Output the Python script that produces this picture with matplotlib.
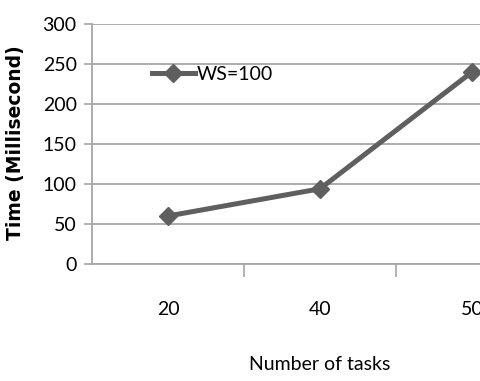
import matplotlib
matplotlib.use("Agg")
import matplotlib.pyplot as plt

tasks = ["20", "40", "50"]
times = [60, 94, 240]
yticks = [0, 50, 100, 150, 200, 250, 300]

body = "Lato"

fig = plt.figure(figsize=(4.81, 3.81), dpi=100)
ax = fig.add_axes([92/481, 117/381, 456/481, 240/381])

x = list(range(len(tasks)))
ax.plot(x, times, color="#5f5f5f", linewidth=3.6, marker="D", markersize=9,
        label="WS=100")

ax.set_xlim(-0.5, 2.5)
ax.set_ylim(0, 300)
ax.set_yticks(yticks)
ax.set_yticklabels([str(v) for v in yticks], fontname=body, fontsize=14)
ax.yaxis.grid(True, color="#a6a6a6", linewidth=1.3)
ax.set_axisbelow(True)

# category labels centred, tick marks at the boundaries
ax.set_xticks([0.5, 1.5])
ax.set_xticklabels([])
ax.tick_params(axis="x", length=9, width=1.2, color="#a6a6a6")
ax.tick_params(axis="y", length=6, width=1.2, color="#a6a6a6", pad=5)
for i, t in enumerate(tasks):
    ax.text(i, -0.19, t, transform=ax.get_xaxis_transform(), ha="center",
            va="center", fontname=body, fontsize=14)

for s in ["top", "right"]:
    ax.spines[s].set_visible(False)
for s in ["left", "bottom"]:
    ax.spines[s].set_color("#a6a6a6")
    ax.spines[s].set_linewidth(1.3)

fig.text(320/481, 1 - 365/381, "Number of tasks", ha="center", va="center",
         fontname=body, fontsize=14)
fig.text(16/481, 1 - 143/381, "Time (Millisecond)", ha="center", va="center",
         rotation=90, fontweight="bold", fontsize=13.5)

ax.legend(loc="upper left", bbox_to_anchor=(0.11, 0.865), frameon=False,
          prop={"family": body, "size": 14}, handlelength=2.2,
          handletextpad=0.1, borderpad=0)

fig.savefig("out.png", dpi=100)
